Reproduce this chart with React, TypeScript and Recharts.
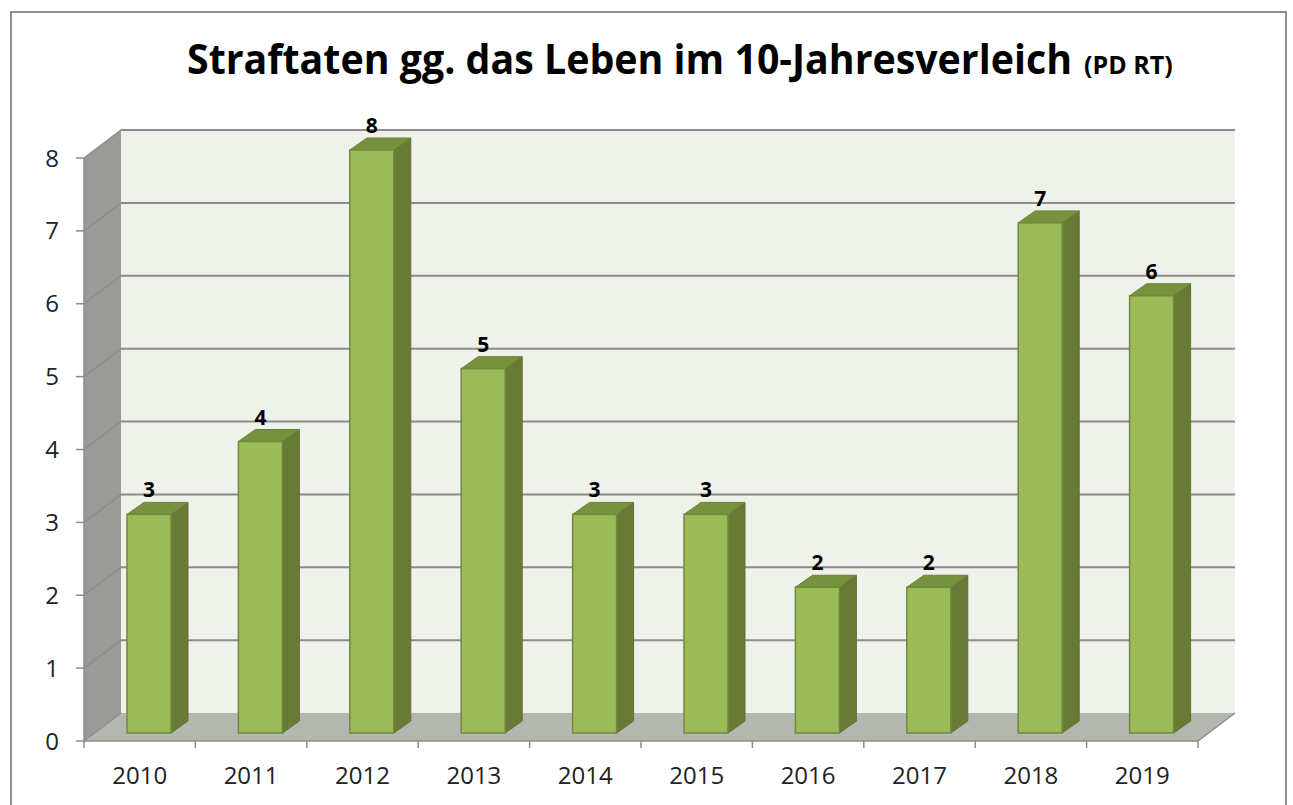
import React from 'react';
import { BarChart, Bar, XAxis, YAxis, ReferenceArea, LabelList } from 'recharts';

const years = ['2010', '2011', '2012', '2013', '2014', '2015', '2016', '2017', '2018', '2019'];
const counts = [3, 4, 8, 5, 3, 3, 2, 2, 7, 6];
const yTicks = [0, 1, 2, 3, 4, 5, 6, 7, 8];
const titleMain = 'Straftaten gg. das Leben im 10-Jahresverleich';
const titleSub = '(PD RT)';

const data = years.map((y, i) => ({ year: y, value: counts[i] }));
const yMax = yTicks[yTicks.length - 1];

const FONT = '"Open Sans", "Noto Sans", sans-serif';
const DX = 37;
const DY = -28;
const OX = 9;
const OY = -8;
const BDX = 17;
const BDY = -12;
const GRID = '#8c8c8c';
const TITLE_SX = 0.93;

const WallShape = (props: any) => {
  const { x, y, width: w, height: h } = props;
  const pts = (arr: number[][]) => arr.map((p) => p.join(',')).join(' ');
  return (
    <g>
      <rect x={x + DX} y={y + DY} width={w} height={h} fill="#eff1eb" />
      <polygon
        points={pts([[x, y], [x + DX, y + DY], [x + DX, y + h + DY], [x, y + h]])}
        fill="#9a9b96"
      />
      <polygon
        points={pts([[x, y + h], [x + DX, y + h + DY], [x + w + DX, y + h + DY], [x + w, y + h]])}
        fill="#b4b6b0"
      />
      {yTicks.map((t) => {
        const yy = y + h * (1 - t / yMax);
        return (
          <g key={t}>
            {t > 0 && (
              <line x1={x + DX} y1={yy + DY} x2={x + w + DX} y2={yy + DY} stroke={GRID} strokeWidth={2} />
            )}
            <line x1={x} y1={yy} x2={x + DX} y2={yy + DY} stroke={GRID} strokeWidth={1.5} />
          </g>
        );
      })}
      <line x1={x + w} y1={y + h} x2={x + w + DX} y2={y + h + DY} stroke={GRID} strokeWidth={1.5} />
    </g>
  );
};

const Bar3D = (props: any) => {
  const { x, y, width: w, height: h } = props;
  if (!h || h <= 0) return null;
  const fx = x + OX;
  const fy = y + OY;
  const pts = (arr: number[][]) => arr.map((p) => p.join(',')).join(' ');
  return (
    <g>
      <polygon
        points={pts([[fx + w, fy], [fx + w + BDX, fy + BDY], [fx + w + BDX, fy + h + BDY], [fx + w, fy + h]])}
        fill="#677a36"
        stroke="#5f7232"
        strokeWidth={1}
      />
      <polygon
        points={pts([[fx, fy], [fx + BDX, fy + BDY], [fx + w + BDX, fy + BDY], [fx + w, fy]])}
        fill="#76923c"
        stroke="#6a8236"
        strokeWidth={1}
      />
      <rect x={fx} y={fy} width={w} height={h} fill="#9bbb59" stroke="#71893f" strokeWidth={1.5} />
    </g>
  );
};

const ValueLabel = (props: any) => {
  const { x, y, width: w, value } = props;
  return (
    <text
      x={x + OX + w / 2}
      y={y + OY - 17}
      textAnchor="middle"
      fontFamily={FONT}
      fontWeight={700}
      fontSize={21}
      fill="#000"
    >
      {value}
    </text>
  );
};

const XTick = (props: any) => {
  const { x, y, payload, index, width, visibleTicksCount } = props;
  const bw = width / (visibleTicksCount || years.length);
  return (
    <g>
      <line x1={x - bw / 2} y1={y} x2={x - bw / 2} y2={y + 7} stroke={GRID} strokeWidth={1.5} />
      {index === years.length - 1 && (
        <line x1={x + bw / 2} y1={y} x2={x + bw / 2} y2={y + 7} stroke={GRID} strokeWidth={1.5} />
      )}
      <text x={x} y={y + 43} textAnchor="middle" fontFamily={FONT} fontSize={24} fill="#222">
        {payload.value}
      </text>
    </g>
  );
};

export default function App() {
  return (
    <div style={{ position: 'absolute', left: 0, top: 0, width: 1293, height: 805, overflow: 'hidden', background: '#fff' }}>
      <div
        style={{
          position: 'absolute',
          left: 10,
          top: 11,
          width: 1277,
          height: 820,
          border: '2px solid #8f8f8f',
          boxSizing: 'border-box',
        }}
      />
      <svg style={{ position: 'absolute', left: 0, top: 0 }} width={1293} height={110}>
        <g transform={`translate(187,74) scale(${TITLE_SX},1)`}>
          <text x={0} y={0} fontFamily={FONT} fontWeight={700} fontSize={42} fill="#000" textLength={885 / TITLE_SX} lengthAdjust="spacingAndGlyphs">
            {titleMain}
          </text>
        </g>
        <text x={1084} y={74} fontFamily={FONT} fontWeight={700} fontSize={25} fill="#000">
          {titleSub}
        </text>
      </svg>
      <div style={{ position: 'absolute', left: 0, top: 0 }}>
        <BarChart width={1293} height={805} data={data} margin={{ top: 158, right: 95, bottom: 0, left: 0 }}>
          <ReferenceArea x1={years[0]} x2={years[years.length - 1]} y1={0} y2={yMax} ifOverflow="visible" shape={WallShape} />
          <XAxis
            dataKey="year"
            height={64}
            tickLine={false}
            tickSize={0}
            tickMargin={0}
            axisLine={{ stroke: GRID, strokeWidth: 1.5 }}
            tick={XTick}
            interval={0}
          />
          <YAxis
            width={84}
            domain={[0, yMax]}
            ticks={yTicks}
            tickSize={8}
            tickMargin={17}
            axisLine={{ stroke: GRID, strokeWidth: 1.5 }}
            tickLine={{ stroke: GRID, strokeWidth: 1.5 }}
            tick={{ fontFamily: FONT, fontSize: 24, fill: '#222' }}
            allowDecimals={false}
          />
          <Bar dataKey="value" barSize={44} shape={Bar3D} isAnimationActive={false}>
            <LabelList dataKey="value" content={ValueLabel} />
          </Bar>
        </BarChart>
      </div>
    </div>
  );
}
